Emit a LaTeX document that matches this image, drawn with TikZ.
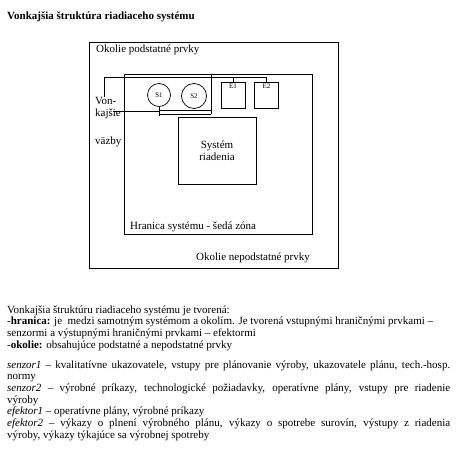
\documentclass[tikz,border=0pt]{standalone}
\usepackage{fontspec}
\setmainfont{Liberation Serif}
\newcommand\bodyfmt{\tolerance=9999 \hyphenpenalty=10000 \exhyphenpenalty=10000 }

\begin{document}
\begin{tikzpicture}[
  x=1pt, y=-1pt,
  box/.style={draw, rectangle, inner sep=0pt, line width=0.7pt},
  sens/.style={draw, circle, inner sep=0pt, line width=0.7pt,
               font=\fontsize{7}{8}\selectfont},
  efk/.style={draw, rectangle, inner sep=0pt, line width=0.7pt,
              minimum width=24pt, minimum height=26pt},
  efklbl/.style={anchor=north, inner sep=2pt, font=\fontsize{7}{8}\selectfont},
  wire/.style={line width=0.6pt},
  lbl/.style={font=\fontsize{11}{12}\selectfont, inner sep=0pt, anchor=base west},
  body/.style={font=\fontsize{11}{11.7}\selectfont,
               inner sep=0pt, text width=443pt, align=justify, anchor=base west}
]
\useasboundingbox (0,0) rectangle (465,457);

%% ---- title ----
\node[lbl, font=\fontsize{11}{12}\selectfont\bfseries] (title) at (7,20)
  {Vonkajšia štruktúra riadiaceho systému};

%% ---- boxes ----
\node[box, minimum width=249pt, minimum height=226pt] (okolie) at (213.5,155) {};
\node[box, minimum width=188pt, minimum height=160pt] (hranica) at (218,154) {};
\node[box, minimum width=78pt, minimum height=67pt, align=center,
      font=\fontsize{11}{12}\selectfont] (sys) at (217,150.5)
  {Systém\\riadenia};

\node[sens, minimum size=23pt] (S1) at (159,95) {S1};
\node[sens, minimum size=25pt] (S2) at (194,96) {S2};
\node[efk, label={[efklbl]north:E1}] (E1) at (233,95) {};
\node[efk, label={[efklbl]north:E2}] (E2) at (266.5,95) {};

%% ---- labels ----
\node[lbl] (podst) at (96,53) {Okolie podstatné prvky};
\node[lbl] (hrlbl) at (130,229) {Hranica systému - šedá zóna};
\node[lbl] (nepodst) at (196,260) {Okolie nepodstatné prvky};
\node[lbl] (von) at (95,105) {Von-};
\node[lbl] (kaj) at (95,117) {kajšie};
\node[lbl] (vazby) at (95,145) {väzby};

%% ---- wires ----
\coordinate (vonT) at (104,97);
\coordinate (wtop) at (104,77);
\coordinate (vonM) at (113,111);
\coordinate (sepB) at (211,114);
\coordinate (busA) at (159,110);
\coordinate (busB) at (159,114);
\coordinate (s1tap) at (159,116);

\draw[wire] (vonT) -- (wtop) -| (E2.north);
\draw[wire] (E1.north) -- (E1.north |- wtop);
\draw[wire] (hranica.north -| sepB) -- (sepB);
\draw[wire] (S1.south) -- (s1tap);
\draw[wire] (vonM) -- (vonM -| S1.south);
\draw[wire] (busA) -- (busA -| sepB);
\draw[wire] (busB) -- (sepB);

%% ---- description ----
\node[body] (popis) at (7,313) {\bodyfmt
  Vonkajšia štruktúru riadiaceho systému je tvorená:\\
  -\textbf{hranica:} je\ \ medzi samotným systémom a okolím. Je tvorená vstupnými hraničnými prvkami –\\
  senzormi a výstupnými hraničnými prvkami – efektormi\\
  -\textbf{okolie:} obsahujúce podstatné a nepodstatné prvky
};
\node[body] (prvky) at (7,368) {\bodyfmt
  \textit{senzor1} – kvalitatívne ukazovatele, vstupy pre plánovanie výroby, ukazovatele plánu, tech.-hosp.\linebreak
  normy\\
  \textit{senzor2} – výrobné príkazy, technologické požiadavky, operatívne plány, vstupy pre riadenie\linebreak
  výroby\\
  \textit{efektor1} – operatívne plány, výrobné príkazy\\
  \textit{efektor2} – výkazy o plnení výrobného plánu, výkazy o spotrebe surovín, výstupy z riadenia\linebreak
  výroby, výkazy týkajúce sa výrobnej spotreby
};

\end{tikzpicture}
\end{document}
